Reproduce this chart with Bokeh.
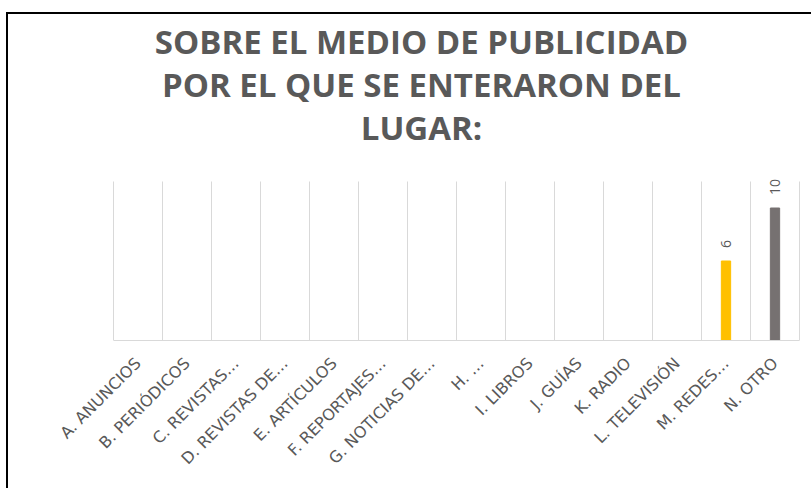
import math
from bokeh.plotting import figure
from bokeh.models import (ColumnDataSource, Range1d, FixedTicker, LabelSet, Label,
                          InlineStyleSheet)
from bokeh.core.properties import value
from bokeh.embed import file_html
from bokeh.resources import INLINE

categories = ["A. ANUNCIOS", "B. PERIÓDICOS", "C. REVISTAS…", "D. REVISTAS DE…",
              "E. ARTÍCULOS", "F. REPORTAJES…", "G. NOTICIAS DE…", "H. …",
              "I. LIBROS", "J. GUÍAS", "K. RADIO", "L. TELEVISIÓN",
              "M. REDES…", "N. OTRO"]
values = [0, 0, 0, 0, 0, 0, 0, 0, 0, 0, 0, 0, 6, 10]
bar_colors = ["#767171"] * 12 + ["#FFC000", "#767171"]
title_lines = ["SOBRE EL MEDIO DE PUBLICIDAD", "POR EL QUE SE ENTERARON DEL", "LUGAR:"]
value_axis_max = 12

n = len(categories)
centers = [i + 0.5 for i in range(n)]
shown = [v > 0 for v in values]
src = ColumnDataSource(dict(
    x=[c for c, s in zip(centers, shown) if s],
    val=[v for v, s in zip(values, shown) if s],
    color=[c for c, s in zip(bar_colors, shown) if s],
    lab=[str(v) for v, s in zip(values, shown) if s],
))
grid_src = ColumnDataSource(dict(
    x=list(range(n + 1)),
    y0=[0] * (n + 1),
    y1=[value_axis_max] * (n + 1),
))

W, H = 811, 488
plot_left, plot_bottom, cat_w, unit_h = 113, 340, 49.0, 13.25
x_start = -plot_left / cat_w
x_end = (W - plot_left) / cat_w
y_end = plot_bottom / unit_h

p = figure(width=W, height=H,
           x_range=Range1d(x_start, x_end), y_range=Range1d(0, y_end),
           output_backend="svg", toolbar_location=None,
           min_border_left=0, min_border_right=0, min_border_top=0, min_border_bottom=H - plot_bottom)
p.title = None
p.outline_line_color = None
p.background_fill_color = "white"
p.border_fill_color = "white"
p.grid.visible = False
p.yaxis.visible = False

p.segment(x0="x", x1="x", y0="y0", y1="y1", source=grid_src, line_color="#d9d9d9", line_width=1)
p.vbar(x="x", top="val", width=0.19, color="color", source=src)

p.add_layout(LabelSet(x="x", y="val", text="lab", source=src, angle=math.pi / 2,
                      text_align="left", text_baseline="middle", y_offset=13,
                      text_color="#595959", text_font=value("Open Sans"),
                      text_font_size="14px"))

ax = p.xaxis[0]
ax.ticker = FixedTicker(ticks=centers)
ax.major_label_overrides = {c: name for c, name in zip(centers, categories)}
ax.bounds = (0, n)
ax.axis_line_color = "#d9d9d9"
ax.major_tick_line_color = None
ax.minor_tick_line_color = None
ax.major_label_orientation = math.pi / 4
ax.major_label_text_color = "#595959"
ax.major_label_text_font = "DejaVu Sans"
ax.major_label_text_font_size = "16px"
ax.major_label_standoff = 14

title_y = [41, 84, 127]
for t, yc in zip(title_lines, title_y):
    p.add_layout(Label(x=421, y=plot_bottom - yc, x_units="screen", y_units="screen",
                       text=t, text_align="center", text_baseline="middle",
                       text_font="Open Sans", text_font_style="bold", text_font_size="33px",
                       text_color="#595959"))

p.stylesheets.append(InlineStyleSheet(css="""
:host { position: relative; }
:host::after { content: ""; position: absolute; left: 6px; top: 12px;
  width: 900px; height: 600px; border: 2.5px solid #000; pointer-events: none; }
"""))

open("out.html", "w").write(file_html(p, INLINE))
